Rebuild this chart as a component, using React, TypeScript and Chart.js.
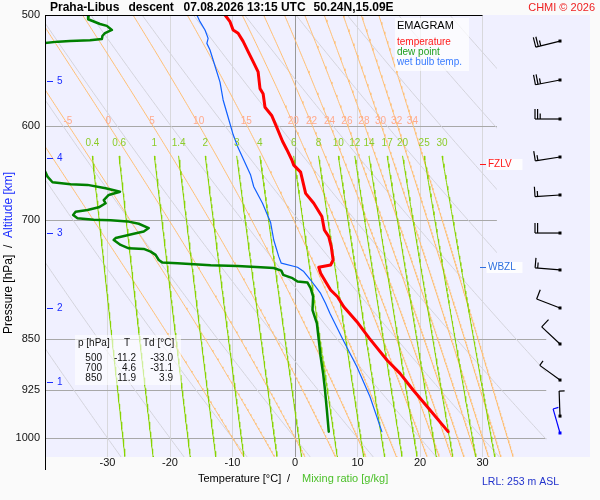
import React, { useEffect, useRef } from 'react';
import { Chart, registerables } from 'chart.js';

Chart.register(...registerables);

const FONT = "'Liberation Sans', Arial, Helvetica, sans-serif";

// ---- axes ----
const PRESSURE_TICKS = [500, 600, 700, 850, 925, 1000];
const TEMP_TICKS = [-30, -20, -10, 0, 10, 20, 30];
const P_TOP = 500;
const P_BOTTOM = 1031.6;
const T_LEFT = -40;
const T_RIGHT = 47.2;

// ---- diagram reference lines ----
const DRY_THETA = [-30, -20, -10, 0, 10, 20, 30, 40, 50, 60, 70, 80, 90, 100, 110];
const MOIST_THW = [-10, -5, 0, 5, 10, 15, 20, 22, 24, 26, 28, 30, 32, 34];
const MIX_W = [0.4, 0.6, 1, 1.4, 2, 3, 4, 6, 8, 10, 12, 14, 17, 20, 25, 30];
const MOIST_LABEL_P = 600;
const MIX_TOP_P = 630;
const GRID_RIGHT_UPPER_T = 32.3;
const GRID_RIGHT_LOWER_T = 40.2;
const GRID_SPLIT_P = 820;

// ---- sounding ----
const TEMP_P = [500, 505.5, 512.4, 515.1, 522.1, 530.9, 539.7, 548.8, 564.1, 568.8, 581.6, 589.8, 601.3, 614.9, 623.5, 634.1, 639.5, 646.8, 669.7, 680.7, 695.6, 711.2, 719.0, 730.8, 747.0, 753.1, 756.0, 763.4, 774.0, 784.6, 793.3, 806.4, 826.5, 849.3, 880.0, 899.5, 924.4, 955.2, 989.6];
const TEMP_T = [-11.2, -10.4, -9.9, -9.1, -8.3, -7.5, -6.7, -5.9, -5.6, -5.1, -4.8, -3.7, -2.9, -2.0, -1.3, -0.5, -0.2, 0.9, 1.7, 3.0, 4.3, 4.7, 5.4, 5.8, 6.1, 5.7, 3.8, 4.1, 4.9, 5.7, 6.8, 7.8, 9.9, 11.9, 14.7, 16.8, 18.9, 21.6, 24.5];

const DEW_P = [500, 503.5, 507.4, 509.0, 512.4, 515.1, 517.3, 520.1, 521.2, 521.7, 522.3, 524, 636, 643, 651.6, 657.6, 659.8, 660.5, 664.1, 667.9, 671.5, 677.1, 680.7, 685.2, 688.2, 690.1, 693.8, 697.5, 699.2, 700.0, 701.2, 703.9, 708.9, 712.9, 715.6, 720.6, 722.9, 728.8, 732.8, 733.6, 736.8, 740.8, 747.0, 750.2, 751.0, 753.4, 754.3, 755.9, 756.8, 760.1, 765.4, 769.6, 773.9, 775.1, 782.3, 793.1, 810.8, 828.7, 851.6, 875.2, 899.6, 924.4, 955.2, 989.6];
const DEW_T = [-33.0, -33.1, -31.2, -30.1, -29.3, -30.4, -30.8, -30.9, -32.8, -36.0, -37.9, -41.0, -41.5, -40.2, -39.6, -38.8, -35.9, -33.2, -30.3, -28.0, -29.8, -30.6, -30.3, -31.4, -33.2, -35.1, -35.5, -34.8, -32.2, -29.5, -26.8, -25.0, -23.4, -24.2, -25.8, -28.7, -29.0, -27.9, -26.6, -24.2, -23.1, -22.3, -21.8, -21.2, -18.8, -13.5, -9.2, -5.5, -3.4, -2.2, -1.9, -0.4, 0.4, 2.0, 2.5, 2.9, 2.8, 3.5, 3.8, 4.1, 4.5, 4.8, 5.1, 5.4];

const WB_P = [500, 505.5, 512.4, 519.5, 523.8, 529.5, 543.6, 558.1, 574.7, 591.2, 608.2, 621.6, 634.1, 650.0, 662.5, 680.7, 702.6, 722.9, 742.9, 750.9, 755.9, 761.3, 771.9, 780.4, 789.1, 802.3, 815.3, 851.6, 889.7, 934.6, 989.6];
const WB_T = [-15.7, -15.2, -14.4, -13.9, -14.1, -13.6, -12.8, -12.0, -11.5, -10.7, -9.9, -9.1, -8.2, -7.1, -6.6, -5.2, -3.9, -3.4, -2.6, -2.2, 0.4, 1.4, 2.5, 3.3, 4.1, 4.9, 5.6, 7.7, 9.9, 12.0, 13.9];

const WIND_P = [521.8, 556.2, 592.9, 631.0, 671.5, 714.7, 759.3, 808.1, 857.2, 909.4, 964.7, 991.8];
const WIND_DIR = [256, 259, 270, 261, 266, 270, 275, 291, 313, 306, 358, 344];
const WIND_KT = [25, 25, 25, 15, 15, 20, 15, 10, 10, 5, 5, 5];

const ALT_KM = [1, 2, 3, 4, 5];
const ALT_P = [911.9, 808.5, 715.0, 631.8, 556.8];

const STAT_P = [500, 700, 850];
const STAT_T = [-11.2, 4.6, 11.9];
const STAT_TD = [-33.0, -31.1, 3.9];

const FZLV_P = 638.6;
const WBZL_P = 755.2;

const TITLE_PARTS = ['Praha-Libus', 'descent', '07.08.2026 13:15 UTC', '50.24N,15.09E'];

// ---- thermodynamics for reference lines ----
function satVap(tc: number) { return 6.112 * Math.exp(17.67 * tc / (tc + 243.5)); }
function dewFromVap(e: number) { const l = Math.log(e / 6.112); return 243.5 * l / (17.67 - l); }
function mixingLineT(w: number, p: number) { return dewFromVap(w * p / (622 + w)); }
function dryAdiabatT(theta: number, p: number) { return (theta + 273.15) * Math.pow(p / 1000, 0.2857) - 273.15; }
function moistLapse(p: number, tk: number) {
  const e = satVap(tk - 273.15);
  const rs = 0.622 * e / (p - e);
  const Rd = 287.04, cp = 1005.7, Lv = 2.501e6;
  return (Rd * tk + Lv * rs) / ((cp + (Lv * Lv * rs * 0.622) / (Rd * tk * tk)) * p);
}
function rk4(p: number, tk: number, h: number) {
  const k1 = moistLapse(p, tk);
  const k2 = moistLapse(p + h / 2, tk + h * k1 / 2);
  const k3 = moistLapse(p + h / 2, tk + h * k2 / 2);
  const k4 = moistLapse(p + h, tk + h * k3);
  return tk + h * (k1 + 2 * k2 + 2 * k3 + k4) / 6;
}
function moistLine(thw: number) {
  const up: { x: number; y: number }[] = [];
  let tk = thw + 273.15;
  let p = 1000;
  up.push({ x: tk - 273.15, y: p });
  while (p > P_TOP) { tk = rk4(p, tk, -2); p -= 2; up.push({ x: tk - 273.15, y: p }); }
  up.reverse();
  tk = thw + 273.15; p = 1000;
  while (p < P_BOTTOM + 2) { tk = rk4(p, tk, 2); p += 2; up.push({ x: tk - 273.15, y: p }); }
  return up;
}
function moistT(thw: number, target: number) {
  let tk = thw + 273.15;
  let p = 1000;
  const n = Math.ceil(Math.abs(target - 1000) / 2);
  const h = (target - 1000) / n;
  for (let i = 0; i < n; i++) { tk = rk4(p, tk, h); p += h; }
  return tk - 273.15;
}
function samplePressures(from: number) {
  const ps: number[] = [];
  for (let p = from; p < P_BOTTOM + 4; p += 4) ps.push(p);
  return ps;
}

function buildDatasets() {
  const ds: any[] = [];
  const zip = (ps: number[], ts: number[]) => ps.map((p, i) => ({ x: ts[i], y: p }));
  ds.push({ data: zip(TEMP_P, TEMP_T), borderColor: '#ff0000', borderWidth: 3, order: 1 });
  ds.push({ data: zip(DEW_P, DEW_T), borderColor: '#008000', borderWidth: 2.5, order: 2 });
  ds.push({ data: zip(WB_P, WB_T), borderColor: '#1060ff', borderWidth: 1.2, order: 3 });
  const full = samplePressures(P_TOP);
  MIX_W.forEach((w) => {
    ds.push({ data: samplePressures(MIX_TOP_P).map((p) => ({ x: mixingLineT(w, p), y: p })), borderColor: '#88d400', borderWidth: 1, order: 20, bgClip: true });
  });
  MOIST_THW.forEach((t) => {
    ds.push({ data: moistLine(t), borderColor: '#ffbf73', borderWidth: 1, order: 30, bgClip: true });
  });
  DRY_THETA.forEach((t) => {
    ds.push({ data: full.map((p) => ({ x: dryAdiabatT(t, p), y: p })), borderColor: '#d4d4dc', borderWidth: 1, order: 40, bgClip: true });
  });
  return ds.map((d) => ({ ...d, pointRadius: 0, fill: false, tension: 0, clip: 0, borderJoinStyle: 'round', borderCapStyle: 'round' }));
}

function clipPath(chart: any) {
  const { ctx, chartArea: a, scales } = chart;
  const xU = scales.x.getPixelForValue(GRID_RIGHT_UPPER_T);
  const xL = scales.x.getPixelForValue(GRID_RIGHT_LOWER_T);
  const yS = scales.y.getPixelForValue(GRID_SPLIT_P);
  ctx.beginPath();
  ctx.moveTo(a.left, a.top);
  ctx.lineTo(xU, a.top);
  ctx.lineTo(xU, yS);
  ctx.lineTo(xL, yS);
  ctx.lineTo(xL, a.bottom);
  ctx.lineTo(a.left, a.bottom);
  ctx.closePath();
}

function drawBarb(ctx: CanvasRenderingContext2D, x: number, y: number, dir: number, kt: number, color: string) {
  const r = dir * Math.PI / 180;
  const ux = Math.sin(r), uy = -Math.cos(r);
  const L = 25;
  const ex = x + ux * L, ey = y + uy * L;
  ctx.strokeStyle = color;
  ctx.fillStyle = color;
  ctx.lineWidth = 1.2;
  ctx.beginPath(); ctx.moveTo(x, y); ctx.lineTo(ex, ey); ctx.stroke();
  ctx.fillRect(x - 1.5, y - 1.5, 3, 3);
  const bx = -uy, by = ux;
  const full = Math.floor(kt / 10);
  const half = kt - full * 10 >= 5 ? 1 : 0;
  let pos = 0;
  for (let i = 0; i < full + half; i++) {
    const len = i < full ? 10 : 5.5;
    const sx = ex - ux * pos, sy = ey - uy * pos;
    ctx.beginPath(); ctx.moveTo(sx, sy); ctx.lineTo(sx + bx * len, sy + by * len); ctx.stroke();
    pos += 2.6;
  }
}

const emagramPlugin = {
  id: 'emagram',
  beforeDraw(chart: any) {
    const { ctx, chartArea: a } = chart;
    ctx.save();
    ctx.fillStyle = '#fafafa';
    ctx.fillRect(0, 0, chart.width, chart.height);
    ctx.fillStyle = '#f0f0ff';
    ctx.fillRect(a.left, a.top, a.right - a.left, a.bottom - a.top);
    ctx.restore();
  },
  beforeDatasetsDraw(chart: any) {
    const { ctx, chartArea: a, scales } = chart;
    const xU = scales.x.getPixelForValue(GRID_RIGHT_UPPER_T);
    const xL = scales.x.getPixelForValue(GRID_RIGHT_LOWER_T);
    ctx.save();
    ctx.strokeStyle = '#a8a8a8';
    ctx.lineWidth = 1;
    PRESSURE_TICKS.forEach((p) => {
      if (p === P_TOP) return;
      const y = Math.round(scales.y.getPixelForValue(p)) + 0.5;
      ctx.beginPath();
      ctx.moveTo(a.left, y);
      ctx.lineTo(p < GRID_SPLIT_P ? xU : xL, y);
      ctx.stroke();
    });
    ctx.restore();
  },
  beforeDatasetDraw(chart: any, args: any) {
    const d = chart.data.datasets[args.index];
    if (!d.bgClip) return;
    chart.ctx.save();
    clipPath(chart);
    chart.ctx.clip();
  },
  afterDatasetDraw(chart: any, args: any) {
    const d = chart.data.datasets[args.index];
    if (d.bgClip) chart.ctx.restore();
  },
  afterDraw(chart: any) {
    const { ctx, chartArea: a, scales } = chart;
    const xs = scales.x, ys = scales.y;
    ctx.save();

    // frame
    ctx.strokeStyle = '#000';
    ctx.lineWidth = 1;
    ctx.beginPath();
    ctx.moveTo(a.left + 0.5, a.top);
    ctx.lineTo(a.left + 0.5, a.bottom + 13);
    ctx.moveTo(a.left, a.top + 0.5);
    ctx.lineTo(xs.getPixelForValue(TEMP_TICKS[TEMP_TICKS.length - 1]), a.top + 0.5);
    ctx.stroke();

    // moist adiabat labels
    ctx.textBaseline = 'middle';
    ctx.textAlign = 'center';
    ctx.font = `10px ${FONT}`;
    ctx.fillStyle = '#ffaa8c';
    const yMl = ys.getPixelForValue(MOIST_LABEL_P) - 5.5;
    MOIST_THW.forEach((t) => {
      const x = xs.getPixelForValue(moistT(t, MOIST_LABEL_P)) - 1;
      if (x > a.left + 8) ctx.fillText(String(t), x, yMl);
    });
    // mixing ratio labels
    ctx.fillStyle = '#8ccc2a';
    const yMr = ys.getPixelForValue(MIX_TOP_P) - 13;
    MIX_W.forEach((w) => {
      const x = xs.getPixelForValue(mixingLineT(w, MIX_TOP_P));
      ctx.fillText(String(w), x, yMr);
    });

    // altitude ticks
    ctx.strokeStyle = '#1a2cff';
    ctx.fillStyle = '#1a2cff';
    ctx.textAlign = 'left';
    ALT_KM.forEach((km, i) => {
      const y = Math.round(ys.getPixelForValue(ALT_P[i])) + 0.5;
      ctx.beginPath(); ctx.moveTo(a.left + 2, y); ctx.lineTo(a.left + 8, y); ctx.stroke();
      ctx.fillText(String(km), a.left + 12, y);
    });

    // freezing level / wet bulb zero
    const levels = [
      { p: FZLV_P, text: 'FZLV', color: '#ff1a1a' },
      { p: WBZL_P, text: 'WBZL', color: '#2f6fe0' },
    ];
    levels.forEach((l) => {
      const y = Math.round(ys.getPixelForValue(l.p)) + 0.5;
      ctx.fillStyle = 'rgba(255,255,255,0.85)';
      ctx.fillRect(486.5, y - 5.5, 36, 11);
      ctx.strokeStyle = l.color;
      ctx.beginPath(); ctx.moveTo(480, y); ctx.lineTo(486, y); ctx.stroke();
      ctx.fillStyle = l.color;
      ctx.font = `10px ${FONT}`;
      ctx.fillText(l.text, 488, y);
    });

    // legend box
    ctx.fillStyle = 'rgba(255,255,255,0.7)';
    ctx.fillRect(395, 18, 74, 53);
    ctx.fillStyle = '#000';
    ctx.font = `11px ${FONT}`;
    ctx.fillText('EMAGRAM', 397, 26);
    ctx.font = `10px ${FONT}`;
    ctx.fillStyle = '#ff1a1a'; ctx.fillText('temperature', 397, 42);
    ctx.fillStyle = '#1f9f1f'; ctx.fillText('dew point', 397, 52);
    ctx.fillStyle = '#3a7cff'; ctx.fillText('wet bulb temp.', 397, 62);

    // stats box
    ctx.fillStyle = 'rgba(255,255,255,0.6)';
    ctx.fillRect(75, 335, 106, 50);
    ctx.fillStyle = '#111';
    ctx.font = `10px ${FONT}`;
    ctx.textAlign = 'left';
    ctx.fillText('p [hPa]', 78, 343);
    ctx.textAlign = 'center';
    ctx.fillText('T', 127, 343);
    ctx.textAlign = 'left';
    ctx.fillText('Td [°C]', 143, 343);
    ctx.textAlign = 'right';
    STAT_P.forEach((p, i) => {
      const y = 358 + i * 10;
      ctx.fillText(String(p), 102, y);
      ctx.fillText(STAT_T[i].toFixed(1), 136, y);
      ctx.fillText(STAT_TD[i].toFixed(1), 173, y);
    });

    // wind barbs
    const bxPos = a.right - 30;
    WIND_P.forEach((p, i) => {
      const y = ys.getPixelForValue(p);
      drawBarb(ctx, bxPos, y, WIND_DIR[i], WIND_KT[i], i === WIND_P.length - 1 ? '#0000ff' : '#000');
    });

    // title
    ctx.textAlign = 'left';
    ctx.textBaseline = 'middle';
    ctx.fillStyle = '#000';
    ctx.font = `bold 12px ${FONT}`;
    const tx = [50, 128.5, 183.5, 313.5];
    TITLE_PARTS.forEach((s, i) => ctx.fillText(s, tx[i], 7.5));
    ctx.font = `11px ${FONT}`;
    ctx.fillStyle = '#ee2222';
    ctx.textAlign = 'right';
    ctx.fillText('CHMI © 2026', 595, 7.5);

    // x title
    ctx.textAlign = 'left';
    ctx.fillStyle = '#000';
    ctx.font = `11px ${FONT}`;
    ctx.fillText('Temperature [°C]', 198, 479);
    ctx.fillText('/', 287, 479);
    ctx.fillStyle = '#4cc02a';
    ctx.fillText('Mixing ratio [g/kg]', 302, 479);

    // LRL
    ctx.fillStyle = '#2233cc';
    ctx.font = `10.5px ${FONT}`;
    ctx.fillText('LRL: 253 m ASL', 482, 482);

    // y title
    ctx.translate(12, 334);
    ctx.rotate(-Math.PI / 2);
    ctx.textBaseline = 'alphabetic';
    ctx.font = `12px ${FONT}`;
    ctx.fillStyle = '#000';
    const s1 = 'Pressure [hPa]  /  ';
    ctx.fillText(s1, 0, 0);
    ctx.fillStyle = '#1a2cff';
    ctx.fillText('Altitude [km]', ctx.measureText(s1).width, 0);
    ctx.restore();
  },
};

export default function App() {
  const ref = useRef<HTMLCanvasElement>(null);
  useEffect(() => {
    const canvas = ref.current;
    if (!canvas) return;
    const chart = new Chart(canvas, {
      type: 'line',
      data: { datasets: buildDatasets() },
      options: {
        animation: false,
        responsive: false,
        devicePixelRatio: 1,
        events: [],
        layout: { padding: { left: 0, right: 10, top: 15, bottom: 23 } },
        plugins: { legend: { display: false }, tooltip: { enabled: false }, title: { display: false } },
        scales: {
          x: {
            type: 'linear',
            min: T_LEFT,
            max: T_RIGHT,
            afterBuildTicks: (s: any) => { s.ticks = TEMP_TICKS.map((v) => ({ value: v })); },
            afterFit: (s: any) => { s.height = 20; },
            border: { display: false },
            grid: {
              drawTicks: false,
              color: (c: any) => (c.tick && c.tick.value === 0 ? '#999999' : '#d8d8dc'),
              lineWidth: 1,
            },
            ticks: { padding: -1, color: '#111', font: { size: 11, family: FONT }, autoSkip: false, maxRotation: 0, callback: (v: any) => String(v) },
          },
          y: {
            type: 'logarithmic',
            reverse: true,
            min: P_TOP,
            max: P_BOTTOM,
            afterBuildTicks: (s: any) => { s.ticks = PRESSURE_TICKS.map((v) => ({ value: v })); },
            afterFit: (s: any) => { s.width = 45; },
            border: { display: false },
            grid: { display: false, drawTicks: false },
            ticks: { padding: 5, color: '#111', font: { size: 11, family: FONT }, autoSkip: false, callback: (v: any) => String(v) },
          },
        },
      } as any,
      plugins: [emagramPlugin],
    });
    return () => chart.destroy();
  }, []);
  return (
    <div style={{ position: 'absolute', left: 0, top: 0, width: 600, height: 500, background: '#fafafa' }}>
      <canvas ref={ref} width={600} height={500} style={{ display: 'block', width: 600, height: 500 }} />
    </div>
  );
}
